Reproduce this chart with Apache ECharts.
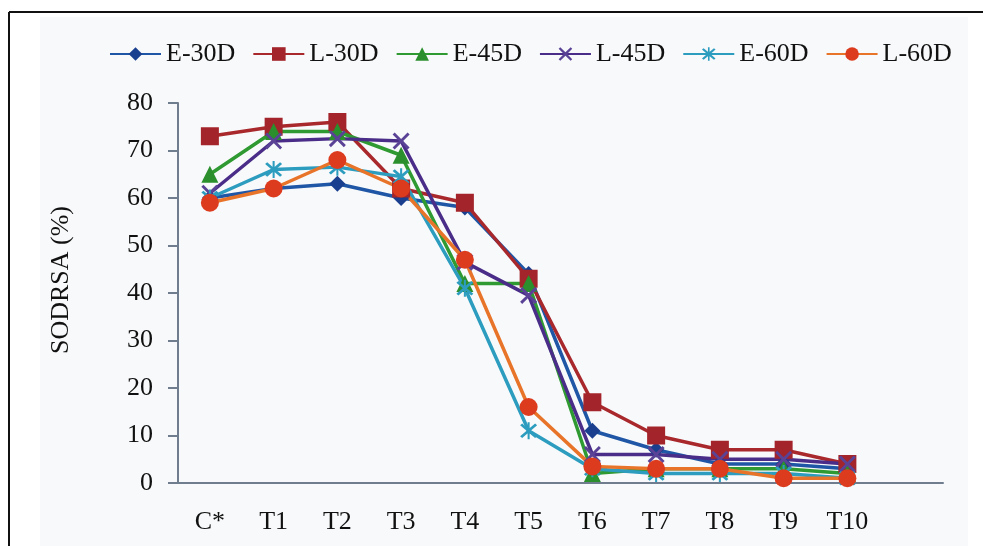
<!DOCTYPE html>
<html>
<head>
<meta charset="utf-8">
<script src="https://cdn.jsdelivr.net/npm/echarts@6/dist/echarts.min.js"></script>
<style>
  html, body { margin: 0; padding: 0; background: #ffffff; }
  #chart { width: 983px; height: 546px; }
</style>
</head>
<body>
<div id="chart"></div>
<script>
// Treatments along the x axis
const categories = ['C*', 'T1', 'T2', 'T3', 'T4', 'T5', 'T6', 'T7', 'T8', 'T9', 'T10'];
const yTicks = [0, 10, 20, 30, 40, 50, 60, 70, 80];

// SODRSA (%) per treatment
const e30 = [60, 62, 63, 60, 58, 44, 11, 7, 4, 4, 3];
const l30 = [73, 75, 76, 62, 59, 43, 17, 10, 7, 7, 4];
const e45 = [65, 74, 74, 69, 42, 42, 2, 3, 3, 3, 2];
const l45 = [61, 72, 72.5, 72, 46.5, 39.5, 6, 6, 5, 5, 4];
const e60 = [60, 66, 66.5, 64.5, 41, 11, 3, 2, 2, 2, 1];
const l60 = [59, 62, 68, 62, 47, 16, 3.5, 3, 3, 1, 1];

const X_PATH = 'path://M0,1.2L1.2,0L5,3.8L8.8,0L10,1.2L6.2,5L10,8.8L8.8,10L5,6.2L1.2,10L0,8.8L3.8,5Z';
const STAR_PATH = 'path://M0,1.2L1.2,0L5,3.8L8.8,0L10,1.2L6.2,5L10,8.8L8.8,10L5,6.2L1.2,10L0,8.8L3.8,5Z M4.4,-0.8L5.6,-0.8L5.6,10.8L4.4,10.8Z';

function line(name, data, lineColor, markColor, symbol, size) {
  return {
    name: name,
    type: 'line',
    data: data,
    symbol: symbol,
    symbolSize: size,
    showAllSymbol: true,
    lineStyle: { color: lineColor, width: 3.5 },
    itemStyle: { color: markColor, borderWidth: 0 },
    emphasis: { disabled: true },
    animation: false
  };
}

const chart = echarts.init(document.getElementById('chart'), null, { renderer: 'canvas' });
const serif = '"Liberation Serif", "Times New Roman", serif';

chart.setOption({
  backgroundColor: '#ffffff',
  textStyle: { fontFamily: serif, color: '#111' },
  graphic: [
    { type: 'rect', z: -10, shape: { x: 40, y: 17, width: 928, height: 529 }, style: { fill: '#f8f9fa' } },
    { type: 'line', z: -5, shape: { x1: 9, y1: 12, x2: 983, y2: 12 }, style: { stroke: '#111', lineWidth: 2 } },
    { type: 'line', z: -5, shape: { x1: 9, y1: 12, x2: 9, y2: 546 }, style: { stroke: '#111', lineWidth: 2 } }
  ],
  legend: {
    left: 104,
    top: 36,
    itemWidth: 51,
    itemHeight: 17,
    itemGap: 17,
    textStyle: { fontFamily: serif, fontSize: 26, color: '#111' },
    data: ['E-30D', 'L-30D', 'E-45D', 'L-45D', 'E-60D', 'L-60D']
  },
  grid: { left: 178, right: 40, top: 103, bottom: 63, containLabel: false },
  xAxis: {
    type: 'category',
    data: categories.concat(['']),
    boundaryGap: true,
    axisLine: { lineStyle: { color: '#6f7d8f', width: 2 } },
    axisTick: { show: false },
    axisLabel: { fontFamily: serif, fontSize: 26, color: '#111', margin: 26, interval: 0 },
    splitLine: { show: false }
  },
  yAxis: {
    type: 'value',
    min: yTicks[0],
    max: yTicks[yTicks.length - 1],
    interval: 10,
    name: 'SODRSA (%)',
    nameLocation: 'middle',
    nameGap: 104,
    nameTextStyle: { fontFamily: serif, fontSize: 26, color: '#111', padding: [0, 0, 0, 26] },
    axisLine: { show: true, lineStyle: { color: '#6f7d8f', width: 2 } },
    axisTick: { show: true, length: 10, lineStyle: { color: '#6f7d8f', width: 2 } },
    axisLabel: { fontFamily: serif, fontSize: 26, color: '#111', margin: 25 },
    splitLine: { show: false }
  },
  series: [
    line('E-30D', e30, '#1f56a5', '#1a3f8f', 'diamond', 16),
    line('L-30D', l30, '#a8282c', '#a3242a', 'rect', 18),
    line('E-45D', e45, '#2f9a32', '#2a8f2c', 'triangle', 17),
    line('L-45D', l45, '#4a2d88', '#5a4396', X_PATH, 17),
    line('E-60D', e60, '#2c9cbf', '#2c9cbf', STAR_PATH, 17),
    line('L-60D', l60, '#e8742a', '#dc3b1e', 'circle', 18)
  ]
});
</script>
</body>
</html>
